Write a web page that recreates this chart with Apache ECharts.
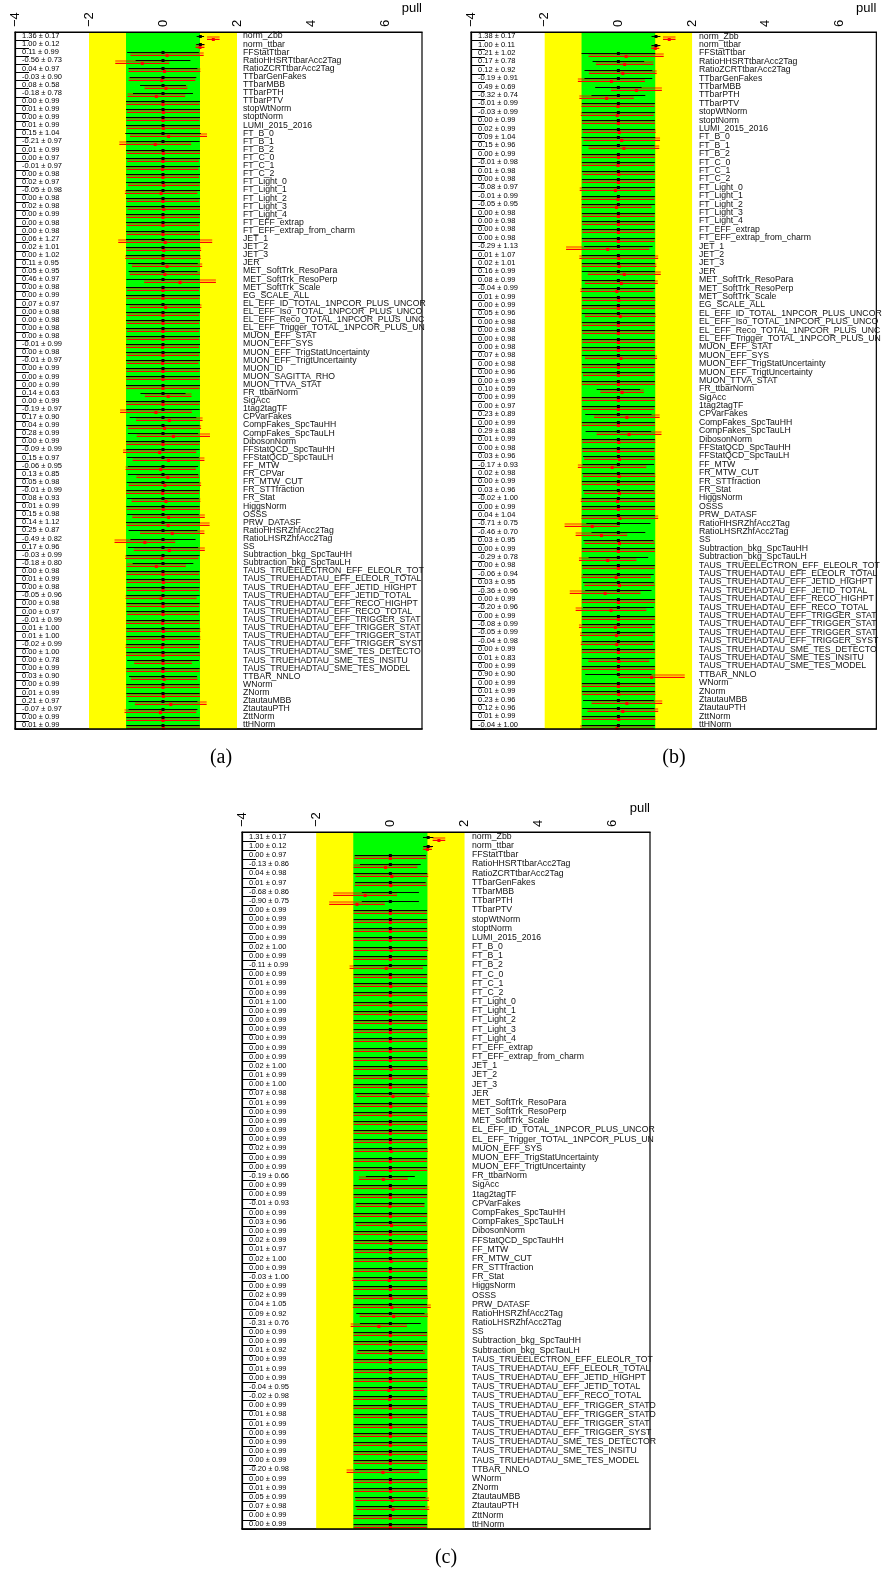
<!DOCTYPE html>
<html><head><meta charset="utf-8">
<script src="https://cdn.jsdelivr.net/npm/echarts@6/dist/echarts.min.js"></script>
<style>html,body{margin:0;padding:0;background:#fff}#c{width:883px;height:1571px}</style>
</head><body><div id="c"></div>
<script>
// ---------- tick labels ----------
const xTicks = [-4, -2, 0, 2, 4, 6];
const captions = ['(a)', '(b)', '(c)'];

// ---------- categories ----------
const namesA = ['norm_Zbb','norm_ttbar','FFStatTtbar','RatioHHSRTtbarAcc2Tag','RatioZCRTtbarAcc2Tag','TTbarGenFakes','TTbarMBB','TTbarPTH','TTbarPTV','stopWtNorm','stoptNorm','LUMI_2015_2016','FT_B_0','FT_B_1','FT_B_2','FT_C_0','FT_C_1','FT_C_2','FT_Light_0','FT_Light_1','FT_Light_2','FT_Light_3','FT_Light_4','FT_EFF_extrap','FT_EFF_extrap_from_charm','JET_1','JET_2','JET_3','JER','MET_SoftTrk_ResoPara','MET_SoftTrk_ResoPerp','MET_SoftTrk_Scale','EG_SCALE_ALL','EL_EFF_ID_TOTAL_1NPCOR_PLUS_UNCOR','EL_EFF_Iso_TOTAL_1NPCOR_PLUS_UNCOR','EL_EFF_Reco_TOTAL_1NPCOR_PLUS_UNCOR','EL_EFF_Trigger_TOTAL_1NPCOR_PLUS_UNCOR','MUON_EFF_STAT','MUON_EFF_SYS','MUON_EFF_TrigStatUncertainty','MUON_EFF_TrigtUncertainty','MUON_ID','MUON_SAGITTA_RHO','MUON_TTVA_STAT','FR_ttbarNorm','SigAcc','1tag2tagTF','CPVarFakes','CompFakes_SpcTauHH','CompFakes_SpcTauLH','DibosonNorm','FFStatQCD_SpcTauHH','FFStatQCD_SpcTauLH','FF_MTW','FR_CPVar','FR_MTW_CUT','FR_STTfraction','FR_Stat','HiggsNorm','OSSS','PRW_DATASF','RatioHHSRZhfAcc2Tag','RatioLHSRZhfAcc2Tag','SS','Subtraction_bkg_SpcTauHH','Subtraction_bkg_SpcTauLH','TAUS_TRUEELECTRON_EFF_ELEOLR_TOTAL','TAUS_TRUEHADTAU_EFF_ELEOLR_TOTAL','TAUS_TRUEHADTAU_EFF_JETID_HIGHPT','TAUS_TRUEHADTAU_EFF_JETID_TOTAL','TAUS_TRUEHADTAU_EFF_RECO_HIGHPT','TAUS_TRUEHADTAU_EFF_RECO_TOTAL','TAUS_TRUEHADTAU_EFF_TRIGGER_STATDATA2015','TAUS_TRUEHADTAU_EFF_TRIGGER_STATDATA2016','TAUS_TRUEHADTAU_EFF_TRIGGER_STATMC2015','TAUS_TRUEHADTAU_EFF_TRIGGER_SYST2015','TAUS_TRUEHADTAU_SME_TES_DETECTOR','TAUS_TRUEHADTAU_SME_TES_INSITU','TAUS_TRUEHADTAU_SME_TES_MODEL','TTBAR_NNLO','WNorm','ZNorm','ZtautauMBB','ZtautauPTH','ZttNorm','ttHNorm'];
const droppedB = ['MUON_ID','MUON_SAGITTA_RHO','FR_CPVar'];
const droppedC = ['EG_SCALE_ALL','EL_EFF_Iso_TOTAL_1NPCOR_PLUS_UNCOR','EL_EFF_Reco_TOTAL_1NPCOR_PLUS_UNCOR','MUON_EFF_STAT','MUON_ID','MUON_SAGITTA_RHO','MUON_TTVA_STAT','FFStatQCD_SpcTauLH','FR_CPVar','TAUS_TRUEHADTAU_EFF_RECO_HIGHPT'];
const namesB = namesA.filter(n => !droppedB.includes(n));
const namesC = namesA.filter(n => !droppedC.includes(n));

// ---------- panel (a) ----------
const blackPullA = [1.01,1.01,0,0,0,0,0,0,0,0, 0,0,0,0,0,0,0,0,0,0, 0,0,0,0,0,0,0,0,0,0, 0,0,0,0,0,0,0,0,0,0, 0,0,0,0,0,0,0,0,0,0, 0,0,0,0,0,0,0,0,0,0, 0,0,0,0,0,0,0,0,0,0, 0,0,0,0,0,0,0,0,0,0, 0,0,0,0,0,0];
const blackErrA = [0.10,0.11,0.97,0.74,0.93,0.90,0.62,0.81,1.00,1.00, 1.00,1.00,1.02,0.99,1.00,1.00,1.00,1.00,1.00,1.00, 1.00,1.00,1.00,1.00,1.00,1.00,1.00,1.00,0.94,0.93, 0.99,1.00,1.00,1.00,1.00,1.00,1.00,1.00,1.00,1.00, 1.00,1.00,1.00,1.00,0.61,1.00,0.99,0.90,0.99,0.95, 1.00,0.99,0.97,0.95,0.95,0.98,0.99,0.97,0.99,0.97, 1.00,0.93,0.88,0.95,0.99,0.82,0.99,0.99,0.99,0.99, 0.99,0.99,0.99,0.99,0.99,0.99,0.99,0.97,0.99,0.92, 0.99,0.99,0.93,0.93,0.99,0.99];
const redPullA = [1.36,1.00,0.11,-0.56,0.04,-0.03,0.08,-0.18,0.00,0.01, 0.00,0.01,0.15,-0.21,0.01,0.00,-0.01,0.00,0.02,-0.05, 0.00,0.02,0.00,0.00,0.00,0.06,0.02,0.00,0.11,0.05, 0.46,0.00,0.00,0.07,0.00,0.00,0.00,0.00,-0.01,0.00, -0.01,0.00,0.00,0.00,0.14,0.00,-0.19,0.17,0.04,0.28, 0.00,-0.09,0.15,-0.06,0.13,0.05,-0.01,0.08,0.01,0.15, 0.14,0.25,-0.49,0.17,-0.03,-0.18,0.00,0.01,0.00,-0.05, 0.00,0.00,-0.01,0.01,0.01,-0.02,0.00,0.00,0.00,0.03, 0.00,0.01,0.21,-0.07,0.00,0.01];
const redErrA = [0.17,0.12,0.99,0.73,0.97,0.90,0.58,0.78,0.99,0.99, 0.99,0.99,1.04,0.97,0.99,0.97,0.97,0.98,0.97,0.98, 0.98,0.98,0.99,0.98,0.98,1.27,1.01,1.02,0.95,0.95, 0.97,0.98,0.99,0.97,0.98,0.98,0.98,0.98,0.99,0.98, 0.97,0.99,0.99,0.99,0.63,0.99,0.97,0.90,0.99,0.99, 0.99,0.99,0.97,0.95,0.85,0.98,0.99,0.93,0.99,0.98, 1.12,0.87,0.82,0.96,0.99,0.80,0.98,0.99,0.98,0.96, 0.98,0.97,0.99,1.00,1.00,0.99,1.00,0.78,0.99,0.90, 0.99,0.99,0.97,0.97,0.99,0.99];

// ---------- panel (b) ----------
const blackPullB = [1.02,1.02,0,0,0,0,0,0,0,0, 0,0,0,0,0,0,0,0,0,0, 0,0,0,0,0,0,0,0,0,0, 0,0,0,0,0,0,0,0,0,0, 0,0,0,0,0,0,0,0,0,0, 0,0,0,0,0,0,0,0,0,0, 0,0,0,0,0,0,0,0,0,0, 0,0,0,0,0,0,0,0,0,0, 0,0,0];
const blackErrB = [0.12,0.12,1.00,0.70,0.92,0.92,0.63,0.73,0.99,0.99, 0.99,0.99,1.00,0.98,0.99,0.99,0.99,0.99,0.99,0.99, 0.99,0.99,0.99,0.99,0.99,0.93,0.99,0.99,0.99,0.99, 0.99,0.99,0.99,0.99,0.99,0.99,0.99,0.99,0.99,0.99, 0.99,0.99,0.59,0.99,0.99,0.90,0.99,0.89,0.99,0.98, 0.96,0.97,0.98,0.99,0.96,0.99,0.99,0.99,0.87,0.73, 0.95,0.99,0.81,0.99,0.96,0.96,0.90,0.99,0.96,0.99, 0.98,0.99,0.98,0.99,0.98,0.99,0.90,0.99,0.99,0.96, 0.98,0.99,0.99];
const redPullB = [1.38,1.00,0.21,0.17,0.12,-0.19,0.49,-0.32,-0.01,-0.03, 0.00,0.02,0.09,0.15,0.00,-0.01,0.01,0.00,-0.08,-0.01, -0.05,0.00,0.00,0.00,0.00,-0.29,0.01,0.02,0.16,0.08, -0.04,0.01,0.00,0.05,0.00,0.00,0.00,0.00,0.07,0.00, 0.00,0.00,0.10,0.00,0.00,0.23,0.00,0.29,0.01,0.00, 0.03,-0.17,0.02,0.00,0.03,-0.02,0.00,0.04,-0.71,-0.46, 0.03,0.00,-0.29,0.00,-0.06,0.03,-0.36,0.00,-0.20,0.00, -0.08,-0.05,-0.04,0.00,0.01,0.00,0.90,0.00,0.01,0.23, 0.12,0.01,-0.04];
const redErrB = [0.17,0.11,1.02,0.78,0.92,0.91,0.69,0.74,0.99,0.99, 0.99,0.99,1.04,0.96,0.99,0.98,0.98,0.98,0.97,0.99, 0.95,0.98,0.98,0.98,0.98,1.13,1.07,1.01,0.99,0.99, 0.99,0.99,0.99,0.96,0.98,0.98,0.98,0.98,0.98,0.98, 0.96,0.99,0.59,0.99,0.97,0.89,0.99,0.88,0.99,0.98, 0.96,0.93,0.98,0.99,0.96,1.00,0.99,1.04,0.75,0.70, 0.95,0.99,0.78,0.98,0.94,0.95,0.96,0.99,0.96,0.99, 0.99,0.99,0.98,0.99,0.83,0.99,0.90,0.99,0.99,0.96, 0.96,0.99,1.00];

// ---------- panel (c) ----------
const blackPullC = [1.02,1.02,0,0,0,0,0,0,0,0, 0,0,0,0,0,0,0,0,0,0, 0,0,0,0,0,0,0,0,0,0, 0,0,0,0,0,0,0,0,0,0, 0,0,0,0,0,0,0,0,0,0, 0,0,0,0,0,0,0,0,0,0, 0,0,0,0,0,0,0,0,0,0, 0,0,0,0,0,0];
const blackErrC = [0.14,0.13,0.96,0.82,0.99,0.95,0.77,0.77,0.99,0.99, 0.99,0.99,0.99,0.99,0.99,0.99,0.99,0.99,0.99,0.99, 0.99,0.99,0.99,0.99,0.99,0.99,0.99,0.99,0.95,0.99, 0.99,0.99,0.99,0.99,0.99,0.99,0.99,0.66,0.99,0.99, 0.92,0.99,0.96,0.99,0.99,0.99,0.99,0.99,0.99,0.99, 0.99,0.99,0.92,0.82,0.99,0.99,0.88,0.99,0.99,0.99, 0.99,0.99,0.99,0.99,0.99,0.99,0.99,0.99,0.99,0.95, 0.99,0.99,0.95,0.94,0.99,0.99];
const redPullC = [1.31,1.00,0.00,-0.13,0.04,0.01,-0.68,-0.90,0.00,0.00, 0.00,0.00,0.02,0.00,-0.11,0.00,0.01,0.00,0.01,0.00, 0.00,0.00,0.00,0.00,0.00,0.02,0.01,0.00,0.07,0.01, 0.00,0.00,0.00,0.00,0.02,0.00,0.00,-0.19,0.00,0.00, -0.01,0.00,0.03,0.00,0.02,0.01,0.02,0.00,-0.03,0.00, 0.02,0.04,0.09,-0.31,0.00,0.00,0.01,0.00,0.01,0.00, -0.04,-0.02,0.00,0.01,0.01,0.00,0.00,0.00,0.00,-0.20, 0.00,0.01,0.05,0.07,0.00,0.00];
const redErrC = [0.17,0.12,0.97,0.86,0.98,0.97,0.86,0.75,0.99,0.99, 0.99,0.99,1.00,0.99,0.99,0.99,0.99,0.99,1.00,0.99, 0.99,0.99,0.99,0.99,0.99,1.00,0.99,1.00,0.98,0.99, 0.99,0.99,0.99,0.99,0.99,0.99,0.99,0.66,0.99,0.99, 0.93,0.99,0.96,0.99,0.99,0.97,1.00,0.99,1.00,0.99, 0.99,1.05,0.92,0.76,0.99,0.99,0.92,0.99,0.99,0.99, 0.95,0.98,0.99,0.98,0.99,0.99,0.99,0.99,0.99,0.98, 0.99,0.99,0.99,0.98,0.99,0.99];

// ---------- layout ----------
const panels = [
  {names:namesA, bP:blackPullA, bE:blackErrA, rP:redPullA, rE:redErrA,
   grid:{left:15, top:32, width:407, height:697}, nameMargin:228, nameWidth:184, cap:[221,758]},
  {names:namesB, bP:blackPullB, bE:blackErrB, rP:redPullB, rE:redErrB,
   grid:{left:471, top:32, width:407, height:697}, nameMargin:228, nameWidth:184, cap:[674,758]},
  {names:namesC, bP:blackPullC, bE:blackErrC, rP:redPullC, rE:redErrC,
   grid:{left:242, top:832, width:408, height:697}, nameMargin:230, nameWidth:185, cap:[446,1558]}
];

const FONT = '"Liberation Sans", Arial, Helvetica, sans-serif';
const fmt = (p, e) => (p < 0 ? '-' : '') + Math.abs(p).toFixed(2) + ' \u00b1 ' + e.toFixed(2);

const option = {animation:false, backgroundColor:'#fff', grid:[], xAxis:[], yAxis:[], series:[], graphic:[]};

function renderRow(params, api) {
  const k = api.value(0), bp = api.value(1), be = api.value(2), rp = api.value(3), re = api.value(4);
  const c = api.coord([bp, k]);
  const y = Math.round(c[1]) + 0.5;
  const bl = api.coord([bp - be, k])[0], br = api.coord([bp + be, k])[0];
  const rc = api.coord([rp, k])[0], rl = api.coord([rp - re, k])[0], rr = api.coord([rp + re, k])[0];
  return {type:'group', children:[
    {type:'rect', shape:{x:rl, y:y - 0.5, width:rr - rl, height:2.6}, style:{fill:'rgba(255,0,0,0.42)'}},
    {type:'line', shape:{x1:bl, y1:y, x2:br, y2:y}, style:{stroke:'#000', lineWidth:1}},
    {type:'line', shape:{x1:rl, y1:y + 3, x2:rr, y2:y + 3}, style:{stroke:'#ff0000', lineWidth:1}},
    {type:'rect', shape:{x:c[0] - 1.5, y:y - 1.5, width:3, height:3}, style:{fill:'#000'}},
    {type:'rect', shape:{x:rc - 1.5, y:y + 1.5, width:3, height:3}, style:{fill:'#ff0000'}}
  ]};
}

panels.forEach((p, i) => {
  option.grid.push(Object.assign({show:true, borderColor:'#000', borderWidth:1.2, backgroundColor:'#fff'}, p.grid));
  const gx = option.xAxis.length;
  option.xAxis.push({
    type:'value', gridIndex:i, position:'top', min:-4, max:7, interval:2, z:10,
    axisLine:{show:true, onZero:false, lineStyle:{color:'#000', width:1.2}},
    axisTick:{show:false}, splitLine:{show:false},
    axisLabel:{rotate:-90, margin:5, fontSize:13, color:'#000', fontFamily:FONT, showMaxLabel:false,
      formatter: v => xTicks.includes(v) ? String(v).replace('-', '\u2212') : ''},
    name:'pull', nameLocation:'end', nameGap:0,
    nameTextStyle:{align:'right', verticalAlign:'bottom', padding:[0,0,17,0], fontSize:13, color:'#000', fontFamily:FONT}
  });
  option.xAxis.push({
    type:'value', gridIndex:i, position:'bottom', min:-4, max:7, z:10,
    axisLine:{show:true, onZero:false, lineStyle:{color:'#000', width:1.6}},
    axisTick:{show:false}, axisLabel:{show:false}, splitLine:{show:false}
  });
  const gy = option.yAxis.length;
  option.yAxis.push({
    type:'category', gridIndex:i, position:'left', inverse:true, data:p.names, z:10,
    axisLine:{show:true, onZero:false, lineStyle:{color:'#000', width:1.2}},
    axisTick:{show:true, inside:true, length:14, lineStyle:{color:'#000', width:1}},
    axisLabel:{inside:true, margin:p.nameMargin, fontSize:8.7, color:'#111', fontFamily:FONT, interval:0,
      width:p.nameWidth, overflow:'truncate', ellipsis:''},
    splitLine:{show:false}
  });
  option.yAxis.push({
    type:'category', gridIndex:i, position:'left', inverse:true, z:11,
    data:p.rP.map((v, j) => fmt(v, p.rE[j])),
    axisLine:{show:false}, axisTick:{show:false}, splitLine:{show:false},
    axisLabel:{inside:true, margin:7, fontSize:7.5, color:'#000', fontFamily:FONT, interval:0}
  });
  // bands (yellow +-2, green +-1)
  option.series.push({
    type:'custom', xAxisIndex:gx, yAxisIndex:gy, z:1, silent:true,
    data:[[0, 0]], renderItem:() => ({type:'group', children:[]}),
    markArea:{silent:true, data:[
      [{xAxis:-2, itemStyle:{color:'#ffff00'}}, {xAxis:2}],
      [{xAxis:-1, itemStyle:{color:'#00ff00'}}, {xAxis:1}]
    ]}
  });
  option.series.push({
    type:'custom', xAxisIndex:gx, yAxisIndex:gy, z:3, silent:true,
    data:p.names.map((n, j) => [j, p.bP[j], p.bE[j], p.rP[j], p.rE[j]]),
    encode:{y:0, x:[1, 3]},
    renderItem:renderRow
  });
  option.graphic.push({type:'text', x:p.cap[0], y:p.cap[1],
    style:{text:captions[i], fontSize:20, fontFamily:'"Liberation Serif", "Times New Roman", serif', fill:'#000', align:'center', verticalAlign:'middle'}});
});

const chart = echarts.init(document.getElementById('c'), null, {renderer:'canvas'});
chart.setOption(option);
</script>
</body></html>
